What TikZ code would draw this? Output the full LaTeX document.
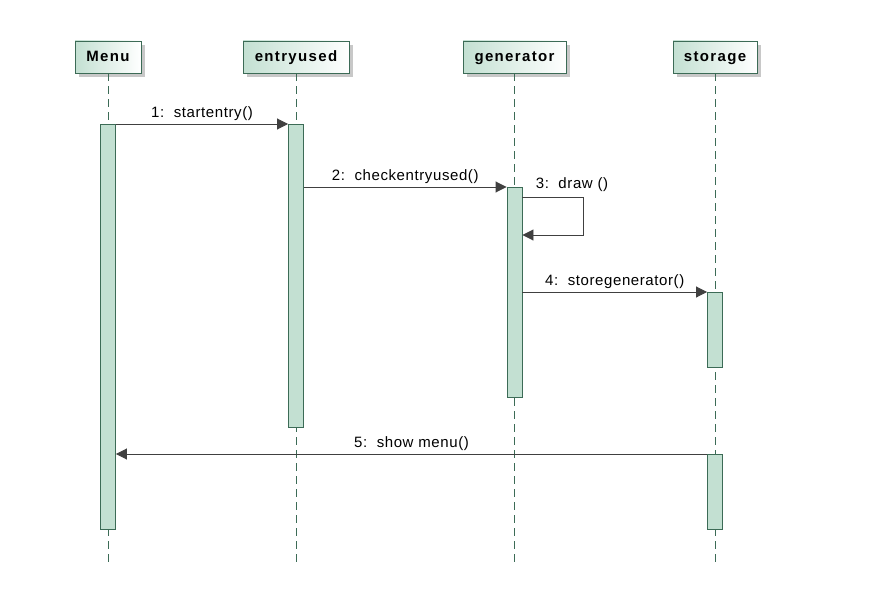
\documentclass[tikz,border=0pt]{standalone}
\usepackage{fontspec}
\setmainfont{Liberation Sans}
\usetikzlibrary{arrows.meta,calc}
\definecolor{actfill}{HTML}{C3E0D2}
\definecolor{linegreen}{HTML}{3C6B56}
\definecolor{arrowgray}{HTML}{404040}
\definecolor{shadowgray}{HTML}{C8C8C8}
\newfontfamily\headfont[LetterSpace=9]{Liberation Sans}
\newfontfamily\lblfont[LetterSpace=4]{Liberation Sans}
\tikzset{
  head/.style={draw=linegreen, line width=0.9pt, left color=actfill, right color=white,
    minimum height=32, inner sep=0pt, text height=11pt, text depth=1pt,
    font=\headfont\fontsize{15}{17}\selectfont\bfseries},
  headshadow/.style={fill=shadowgray, draw=none},
  life/.style={draw=linegreen, line width=0.9pt, dash pattern=on 8pt off 5pt},
  bar/.style={draw=linegreen, line width=0.9pt, fill=actfill, minimum width=15, inner sep=0pt, anchor=north},
  msg/.style={draw=arrowgray, line width=0.9pt, -{Triangle[length=11pt,width=11pt]}},
  lbl/.style={font=\lblfont\fontsize{15}{17}\selectfont, inner sep=1pt}
}
\begin{document}
\begin{tikzpicture}[x=1pt,y=-1pt]
\useasboundingbox (0,0) rectangle (871,602);
% header shadows
\fill[headshadow] (79,45) rectangle (145,77);
\fill[headshadow] (247,45) rectangle (353,77);
\fill[headshadow] (467,45) rectangle (570,77);
\fill[headshadow] (677,45) rectangle (761,77);
% headers
\node[head, minimum width=66] (menu) at (108,57) {Menu};
\node[head, minimum width=106] (entry) at (296,57) {entryused};
\node[head, minimum width=103] (gen) at (514.5,57) {generator};
\node[head, minimum width=84] (stor) at (715,57) {storage};
% lifeline ends
\coordinate (menuend) at (108,562);
\coordinate (entryend) at (296,562);
\coordinate (genend) at (514.5,562);
\coordinate (storend) at (715,562);
\draw[life] (menu.south) -- (menuend);
\draw[life] (entry.south) -- (entryend);
\draw[life] (gen.south) -- (genend);
\draw[life] (stor.south) -- (storend);
% activation bars
\node[bar, minimum height=405] (mb) at (108,124) {};
\node[bar, minimum height=303] (eb) at (296,124) {};
\node[bar, minimum height=210] (gb) at (514.5,187) {};
\node[bar, minimum height=75] (sb1) at (715,292) {};
\node[bar, minimum height=75] (sb2) at (715,454) {};
% messages
\draw[msg] (mb.north east) -- node[lbl, above=2pt] {1:\ \ startentry()} (eb.north west);
\draw[msg] (eb.east |- gb.north) -- node[lbl, above=2pt] {2:\ \ checkentryused()} (gb.north west);
\coordinate (l1) at (583,197);
\coordinate (l2) at (583,235);
\draw[msg] (gb.east |- l1) -- (l1) -- (l2) -- (gb.east |- l2);
\node[lbl] (lbl3) at (572,185) {3:\ \ draw ()};
\draw[msg] (gb.east |- sb1.north) -- node[lbl, above=2pt] {4:\ \ storegenerator()} (sb1.north west);
\draw[msg] (sb2.north west) -- node[lbl, above=2pt, pos=0.5] {5:\ \ show menu()} (mb.east |- sb2.north);
\end{tikzpicture}
\end{document}
